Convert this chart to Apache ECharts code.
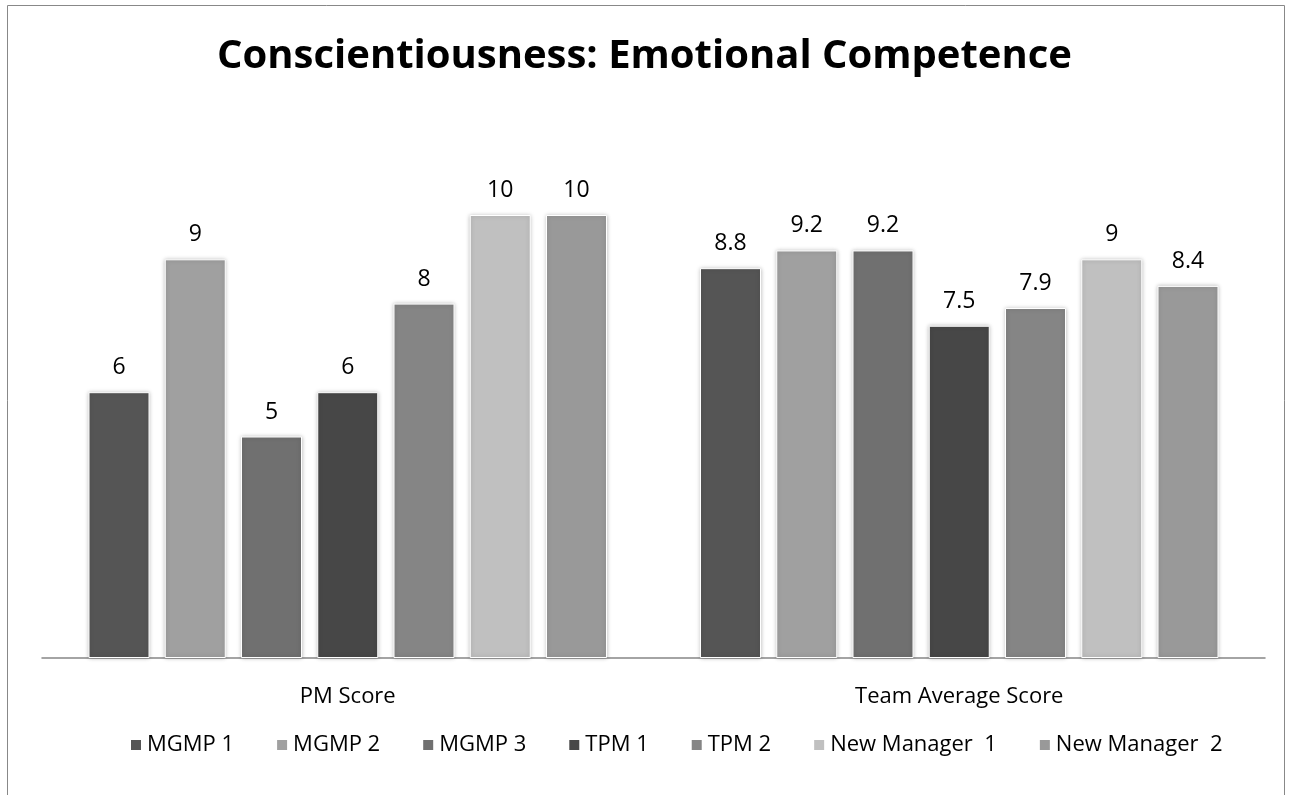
<!DOCTYPE html>
<html>
<head>
<meta charset="utf-8">
<script src="https://cdn.jsdelivr.net/npm/echarts@6/dist/echarts.min.js"></script>
<style>
  html, body { margin: 0; padding: 0; background: #fff; }
  #main { width: 1289px; height: 795px; }
</style>
</head>
<body>
<div id="main"></div>
<script>
// chart data
const categories = ['PM Score', 'Team Average Score']
const seriesNames = ['MGMP 1', 'MGMP 2', 'MGMP 3', 'TPM 1', 'TPM 2', 'New Manager  1', 'New Manager  2']
const seriesColors = ['#555555', '#a0a0a0', '#707070', '#474747', '#858585', '#c0c0c0', '#999999']
const mgmp1 = [6, 8.8]
const mgmp2 = [9, 9.2]
const mgmp3 = [5, 9.2]
const tpm1 = [6, 7.5]
const tpm2 = [8, 7.9]
const newManager1 = [10, 9]
const newManager2 = [10, 8.4]
const seriesValues = [mgmp1, mgmp2, mgmp3, tpm1, tpm2, newManager1, newManager2]

const fontFamily = 'Open Sans'
const chart = echarts.init(document.getElementById('main'))

chart.setOption({
  animation: false,
  textStyle: { fontFamily: fontFamily },
  title: {
    text: 'Conscientiousness: Emotional Competence',
    left: 'center',
    top: 32,
    textStyle: { fontSize: 40, fontWeight: 'bold', color: '#000', fontFamily: fontFamily }
  },
  graphic: [{
    type: 'rect',
    shape: { x: 7.5, y: 5.5, width: 1277, height: 800 },
    style: { fill: 'none', stroke: '#888', lineWidth: 1 },
    silent: true
  }],
  legend: {
    bottom: 34,
    left: 124,
    itemWidth: 12,
    itemHeight: 12,
    itemGap: 41,
    icon: 'rect',
    data: seriesNames,
    textStyle: { fontSize: 22, color: '#000', fontFamily: fontFamily }
  },
  grid: {
    left: 42,
    right: 24,
    top: 215,
    bottom: 137
  },
  xAxis: {
    type: 'category',
    data: categories,
    axisTick: { show: false },
    axisLine: { lineStyle: { color: '#868686', width: 1.5 } },
    axisLabel: { fontSize: 22, color: '#000', margin: 28 }
  },
  yAxis: {
    type: 'value',
    min: 0,
    max: 10,
    show: false
  },
  series: seriesNames.map((name, i) => ({
    name: name,
    type: 'bar',
    data: seriesValues[i],
    barWidth: 61,
    barGap: '25%',
    itemStyle: {
      color: seriesColors[i],
      borderColor: '#fff',
      borderWidth: 1,
      shadowBlur: 4,
      shadowColor: 'rgba(0,0,0,0.25)'
    },
    label: {
      show: true,
      position: 'top',
      distance: 13,
      fontSize: 23,
      color: '#000'
    }
  }))
})
</script>
</body>
</html>
